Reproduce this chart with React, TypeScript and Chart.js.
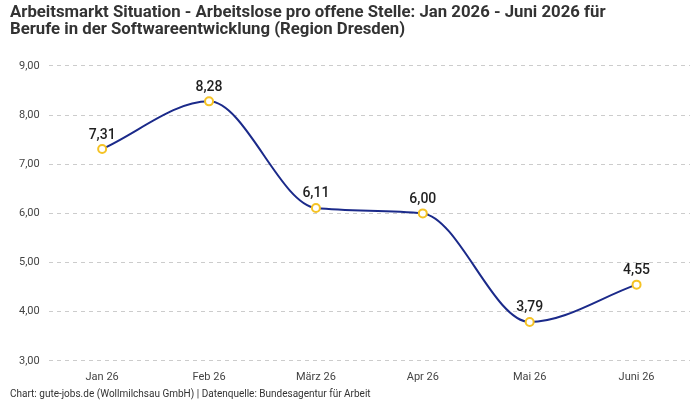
import React, { useEffect, useRef } from "react";
import { Chart, registerables } from "chart.js";

Chart.register(...registerables);

const categories = ["Jan 26", "Feb 26", "März 26", "Apr 26", "Mai 26", "Juni 26"];
const values = [7.31, 8.28, 6.11, 6.0, 3.79, 4.55];
const titleLines = [
  "Arbeitsmarkt Situation - Arbeitslose pro offene Stelle: Jan 2026 - Juni 2026 für",
  "Berufe in der Softwareentwicklung (Region Dresden)",
];
const sourceText = "Chart: gute-jobs.de (Wollmilchsau GmbH) | Datenquelle: Bundesagentur für Arbeit";
const yMin = 3;
const yMax = 9;

const fmt = (v: number) => v.toFixed(2).replace(".", ",");

const FONT = "Roboto, 'Noto Sans', sans-serif";

const labelPlugin = {
  id: "valueLabels",
  afterDatasetsDraw(chart: any) {
    const ctx = chart.ctx;
    const meta = chart.getDatasetMeta(0);
    ctx.save();
    ctx.font = `500 14px ${FONT}`;
    ctx.fillStyle = "#1f1f1f";
    ctx.textAlign = "center";
    ctx.textBaseline = "bottom";
    meta.data.forEach((pt: any, i: number) => {
      ctx.fillText(fmt(values[i]), pt.x, pt.y - 7);
    });
    ctx.restore();
  },
};

export default function App() {
  const ref = useRef<HTMLCanvasElement>(null);
  useEffect(() => {
    if (!ref.current) return;
    const chart = new Chart(ref.current, {
      type: "line",
      data: {
        labels: categories,
        datasets: [
          {
            data: values,
            borderColor: "#1b2a8a",
            borderWidth: 2,
            cubicInterpolationMode: "monotone",
            pointRadius: 4,
            pointBorderWidth: 2,
            pointBackgroundColor: "#ffffff",
            pointBorderColor: "#f5c325",
            fill: false,
          },
        ],
      },
      options: {
        animation: false,
        responsive: true,
        maintainAspectRatio: false,
        layout: { padding: { left: 10, right: 10, top: 0, bottom: 0 } },
        plugins: {
          legend: { display: false },
          tooltip: { enabled: false },
          title: {
            display: true,
            text: titleLines,
            align: "start",
            color: "#333333",
            font: { family: FONT, size: 16.75, weight: "bold", lineHeight: 1.02 },
            padding: { top: 4, bottom: 27.8 },
          },
          subtitle: {
            display: true,
            text: sourceText,
            position: "bottom",
            align: "start",
            color: "#333333",
            font: { family: FONT, size: 10 },
            padding: { top: -6, bottom: 0 },
          },
        },
        scales: {
          x: {
            offset: true,
            grid: { display: false, drawTicks: false },
            border: { display: false },
            ticks: { color: "#444444", font: { family: FONT, size: 11 }, padding: 10 },
          },
          y: {
            min: yMin,
            max: yMax,
            border: { display: false, dash: [4, 4] },
            grid: { color: "#cccccc", drawTicks: false },
            ticks: {
              stepSize: 1,
              color: "#444444",
              font: { family: FONT, size: 11 },
              padding: 9,
              callback: (v: any) => fmt(Number(v)),
            },
          },
        },
      },
      plugins: [labelPlugin],
    });
    return () => chart.destroy();
  }, []);
  return (
    <div style={{ position: "fixed", left: 0, top: 0, width: 700, height: 400, background: "#fff" }}>
      <canvas ref={ref} />
    </div>
  );
}
